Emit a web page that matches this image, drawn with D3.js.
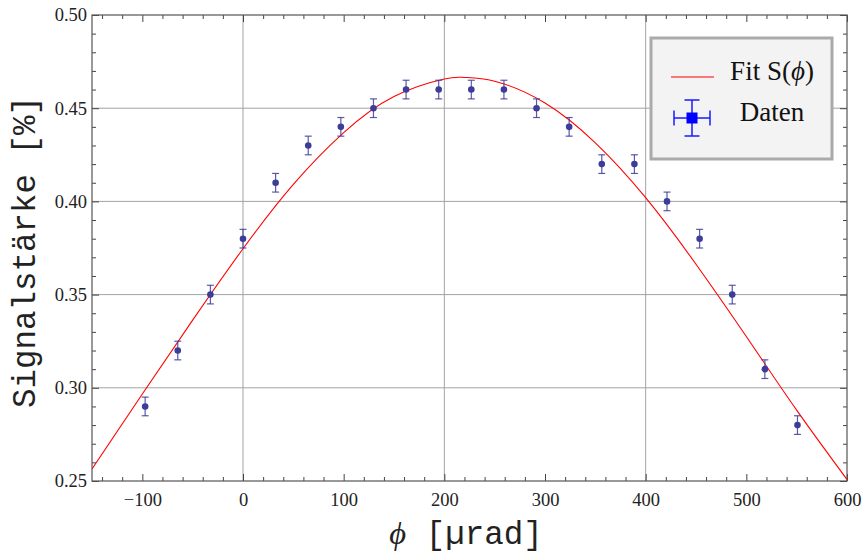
<!DOCTYPE html>
<meta charset="utf-8">
<style>
    body {
        margin: 0;
        background: #fff;
    }

    .tick text {
        font: 18.5px "Liberation Serif", "Times New Roman", serif;
        fill: #222;
    }

    .axis-label {
        font: 32.5px "Liberation Mono", "Courier New", monospace;
        fill: #222;
    }

    .phi {
        font-family: "Liberation Serif", "Times New Roman", serif;
        font-style: italic;
    }

    .legend text {
        font: 27px "Liberation Serif", "Times New Roman", serif;
        fill: #111;
    }
</style>

<body>
    <svg width="863" height="554"></svg>
</body>

<script src="https://d3js.org/d3.v7.min.js"></script>
<script>

    // measured points (phi in µrad, signal in %)
    var phiData = [-97.2, -64.8, -32.4, 0, 32.4, 64.8, 97.2, 129.6, 162, 194.4, 226.8,
        259.2, 291.6, 324, 356.4, 388.8, 421.2, 453.6, 486, 518.4, 550.8];
    var signalData = [0.29, 0.32, 0.35, 0.38, 0.41, 0.43, 0.44, 0.45, 0.46, 0.46, 0.46,
        0.46, 0.45, 0.44, 0.42, 0.42, 0.40, 0.38, 0.35, 0.31, 0.28];
    var signalErr = [0.005, 0.005, 0.005, 0.005, 0.005, 0.005, 0.005, 0.005, 0.005, 0.005, 0.005,
        0.005, 0.005, 0.005, 0.005, 0.005, 0.005, 0.005, 0.005, 0.005, 0.005];

    // fit curve S(phi)
    var fitPhi = [-150, -100, -50, 0, 50, 100, 150, 200, 220, 250, 300, 350, 400, 450, 500, 550, 600];
    var fitS = [0.2565, 0.2967, 0.3363, 0.3746, 0.4091, 0.4369, 0.4563, 0.4657, 0.4665, 0.4645,
        0.4528, 0.4314, 0.4020, 0.3663, 0.3275, 0.2880, 0.2508];

    var xTicks = [-100, 0, 100, 200, 300, 400, 500, 600];
    var yTicks = [0.25, 0.30, 0.35, 0.40, 0.45, 0.50];
    var xGrid = [0, 200, 400];
    var yGrid = [0.30, 0.35, 0.40, 0.45];
    var legendLabels = ["Fit S(", "Daten"];

    var svg = d3.select("svg"),
        margin = {top: 15, right: 16, bottom: 73, left: 92},
        width = +svg.attr("width") - margin.left - margin.right,
        height = +svg.attr("height") - margin.top - margin.bottom,
        g = svg.append("g").attr("transform", "translate(" + margin.left + "," + margin.top + ")");

    var x = d3.scaleLinear().domain([-150, 600]).range([0, width]);
    var y = d3.scaleLinear().domain([0.25, 0.50]).range([height, 0]);

    var xMinor = d3.range(-140, 601, 20).filter(function (v) { return v % 100 !== 0; });
    var yMinor = d3.range(26, 50).filter(function (v) { return v % 5 !== 0; }).map(function (v) { return v / 100; });

    svg.append("defs").append("clipPath").attr("id", "plotclip")
        .append("rect").attr("width", width).attr("height", height);

    // grid
    g.selectAll(".vgrid").data(xGrid).enter().append("line")
        .attr("x1", function (d) { return x(d); })
        .attr("x2", function (d) { return x(d); })
        .attr("y1", 0).attr("y2", height)
        .attr("stroke", "#a3a3a3").attr("stroke-width", 1);
    g.selectAll(".hgrid").data(yGrid).enter().append("line")
        .attr("y1", function (d) { return y(d); })
        .attr("y2", function (d) { return y(d); })
        .attr("x1", 0).attr("x2", width)
        .attr("stroke", "#a3a3a3").attr("stroke-width", 1);

    // axes, ticks pointing into the frame
    function noDomain(sel) {
        sel.select(".domain").remove();
        sel.selectAll(".tick line").attr("stroke", "#444");
    }

    g.append("g").attr("transform", "translate(0," + height + ")")
        .call(d3.axisBottom(x).tickValues(xTicks).tickSize(-7).tickPadding(12)
            .tickFormat(function (d) { return d < 0 ? "\u2212" + (-d) : d; }))
        .call(noDomain);
    g.append("g").attr("transform", "translate(0," + height + ")")
        .call(d3.axisBottom(x).tickValues(xMinor).tickSize(-4).tickFormat(""))
        .call(noDomain);
    g.append("g")
        .call(d3.axisTop(x).tickValues(xTicks).tickSize(-7).tickFormat(""))
        .call(noDomain);
    g.append("g")
        .call(d3.axisTop(x).tickValues(xMinor).tickSize(-4).tickFormat(""))
        .call(noDomain);

    g.append("g")
        .call(d3.axisLeft(y).tickValues(yTicks).tickSize(-7).tickPadding(5).tickFormat(d3.format(".2f")))
        .call(noDomain);
    g.append("g")
        .call(d3.axisLeft(y).tickValues(yMinor).tickSize(-4).tickFormat(""))
        .call(noDomain);
    g.append("g").attr("transform", "translate(" + width + ",0)")
        .call(d3.axisRight(y).tickValues(yTicks).tickSize(-7).tickFormat(""))
        .call(noDomain);
    g.append("g").attr("transform", "translate(" + width + ",0)")
        .call(d3.axisRight(y).tickValues(yMinor).tickSize(-4).tickFormat(""))
        .call(noDomain);

    g.selectAll(".tick text").attr("fill", "#222");

    // frame
    g.append("rect")
        .attr("width", width).attr("height", height)
        .attr("fill", "none").attr("stroke", "#555").attr("stroke-width", 1.2);

    // fit curve
    var fitLine = d3.line()
        .x(function (d, i) { return x(fitPhi[i]); })
        .y(function (d) { return y(d); })
        .curve(d3.curveNatural);

    g.append("path")
        .datum(fitS)
        .attr("clip-path", "url(#plotclip)")
        .attr("d", fitLine)
        .attr("fill", "none")
        .attr("stroke", "#ff0000")
        .attr("stroke-width", 1.1);

    // data with error bars
    var ptColor = "rgb(61,61,153)";
    var pts = g.selectAll(".pt").data(signalData).enter().append("g")
        .attr("transform", function (d, i) { return "translate(" + x(phiData[i]) + ",0)"; });

    pts.append("line")
        .attr("y1", function (d, i) { return y(d - signalErr[i]); })
        .attr("y2", function (d, i) { return y(d + signalErr[i]); })
        .attr("stroke", ptColor).attr("stroke-opacity", 0.85).attr("stroke-width", 1.2);
    pts.append("line")
        .attr("x1", -3.5).attr("x2", 3.5)
        .attr("y1", function (d, i) { return y(d - signalErr[i]); })
        .attr("y2", function (d, i) { return y(d - signalErr[i]); })
        .attr("stroke", ptColor).attr("stroke-opacity", 0.85).attr("stroke-width", 1.2);
    pts.append("line")
        .attr("x1", -3.5).attr("x2", 3.5)
        .attr("y1", function (d, i) { return y(d + signalErr[i]); })
        .attr("y2", function (d, i) { return y(d + signalErr[i]); })
        .attr("stroke", ptColor).attr("stroke-opacity", 0.85).attr("stroke-width", 1.2);
    pts.append("circle")
        .attr("cy", function (d) { return y(d); })
        .attr("r", 3.3)
        .attr("fill", ptColor);

    // axis labels
    var xl = svg.append("text")
        .attr("class", "axis-label")
        .attr("x", 466).attr("y", 544)
        .attr("text-anchor", "middle");
    xl.append("tspan").attr("class", "phi").text("\u03d5");
    xl.append("tspan").text(" [\u00b5rad]");

    svg.append("text")
        .attr("class", "axis-label")
        .attr("transform", "translate(35,252) rotate(-90)")
        .attr("text-anchor", "middle")
        .text("Signalst\u00e4rke [%]");

    // legend
    var lg = svg.append("g").attr("class", "legend").attr("transform", "translate(651,38)");
    lg.append("rect")
        .attr("width", 181).attr("height", 121)
        .attr("fill", "#f3f3f3").attr("stroke", "#aaa").attr("stroke-width", 3);

    lg.append("line")
        .attr("x1", 20).attr("x2", 63).attr("y1", 39).attr("y2", 39)
        .attr("stroke", "#ff0000").attr("stroke-width", 1.1);
    var t1 = lg.append("text").attr("x", 121).attr("y", 42).attr("text-anchor", "middle");
    t1.append("tspan").text(legendLabels[0]);
    t1.append("tspan").attr("class", "phi").text("\u03d5");
    t1.append("tspan").text(")");

    var sym = lg.append("g").attr("transform", "translate(41,80)")
        .attr("stroke", "#1a1aff").attr("stroke-width", 1.5);
    sym.append("line").attr("x1", -18).attr("x2", 18);
    sym.append("line").attr("y1", -18).attr("y2", 18);
    sym.append("line").attr("x1", -7.5).attr("x2", 7.5).attr("y1", -18).attr("y2", -18);
    sym.append("line").attr("x1", -7.5).attr("x2", 7.5).attr("y1", 18).attr("y2", 18);
    sym.append("line").attr("y1", -7.5).attr("y2", 7.5).attr("x1", -18).attr("x2", -18);
    sym.append("line").attr("y1", -7.5).attr("y2", 7.5).attr("x1", 18).attr("x2", 18);
    sym.append("rect").attr("x", -5.5).attr("y", -5.5).attr("width", 11).attr("height", 11)
        .attr("fill", "#0000ff").attr("stroke", "none");

    lg.append("text").attr("x", 121).attr("y", 83).attr("text-anchor", "middle").text(legendLabels[1]);
</script>
